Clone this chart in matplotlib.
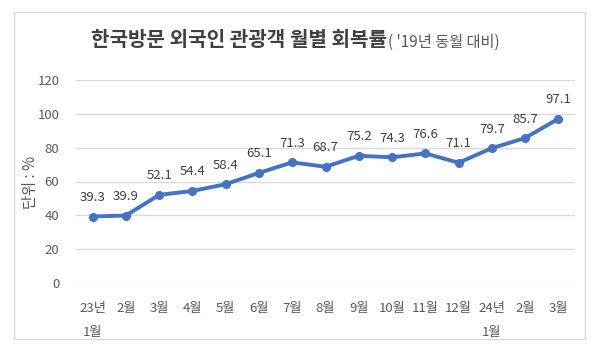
import matplotlib.pyplot as plt
from matplotlib.patches import Rectangle

plt.rcParams["font.family"] = ["Noto Sans CJK KR", "DejaVu Sans"]

# 월별 회복률 ('19년 동월 대비, %)
MONTHS = ["23년\n1월", "2월", "3월", "4월", "5월", "6월", "7월", "8월",
          "9월", "10월", "11월", "12월", "24년\n1월", "2월", "3월"]
RECOVERY = [39.3, 39.9, 52.1, 54.4, 58.4, 65.1, 71.3, 68.7,
            75.2, 74.3, 76.6, 71.1, 79.7, 85.7, 97.1]
Y_TICKS = [0, 20, 40, 60, 80, 100, 120]

LINE_COLOR = "#4472C4"
TEXT_COLOR = "#595959"

fig = plt.figure(figsize=(6, 3.5), dpi=100)

# 바깥 테두리
fig.patches.append(Rectangle((14 / 600, 1 - 339 / 350), 571 / 600, 327 / 350,
                             transform=fig.transFigure, fill=False,
                             edgecolor="#D9D9D9", linewidth=1))

ax = fig.add_axes([76 / 600, 1 - 283 / 350, 499 / 600, 203 / 350])
x = list(range(len(MONTHS)))
ax.plot(x, RECOVERY, color=LINE_COLOR, linewidth=2.8, marker="o",
        markersize=5.5, zorder=3)

for xi, v in zip(x, RECOVERY):
    ax.annotate(f"{v}", (xi, v), xytext=(0, 9), textcoords="offset points",
                ha="center", va="bottom", fontsize=9.5, color="#404040")

ax.set_xlim(-0.5, len(MONTHS) - 0.5)
ax.set_ylim(0, 120)
ax.set_yticks(Y_TICKS)
ax.set_xticks(x)
ax.set_xticklabels(MONTHS, fontsize=9.5, color=TEXT_COLOR, linespacing=2.1, va="top")
ax.tick_params(axis="y", labelsize=9.5, labelcolor=TEXT_COLOR, length=0, pad=12)
ax.tick_params(axis="x", length=0, pad=14)
ax.grid(axis="y", color="#D9D9D9", linewidth=1)
ax.set_axisbelow(True)
for spine in ax.spines.values():
    spine.set_visible(False)

fig.text(31 / 600, 1 - 182 / 350, "단위 : %", rotation=90, ha="center",
         va="center", fontsize=11, color=TEXT_COLOR)

# 제목: 굵은 본문 + 작은 부제
title = fig.text(91 / 600, 1 - 40 / 350, "한국방문 외국인 관광객 월별 회복률",
                 fontsize=14.5, fontweight="bold", color="#404040",
                 ha="left", va="center")
renderer = fig.canvas.get_renderer()
bbox = title.get_window_extent(renderer=renderer)
fig.text(bbox.x1 / fig.bbox.width + 0.002, 1 - 42 / 350, "( '19년 동월 대비)",
         fontsize=11, color=TEXT_COLOR, ha="left", va="center")

fig.savefig("out.png", dpi=100)
